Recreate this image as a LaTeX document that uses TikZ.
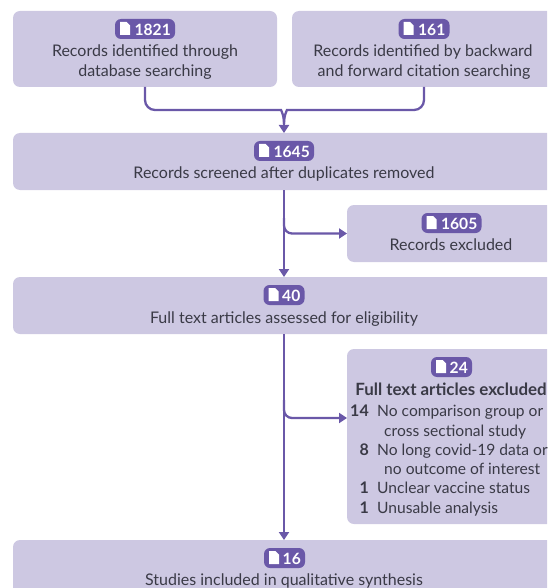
\documentclass[tikz,border=0pt]{standalone}
\usepackage{fontspec}
\setmainfont{Lato}
\usetikzlibrary{arrows.meta}
\definecolor{boxfill}{HTML}{CDC8E2}
\definecolor{purp}{HTML}{6A58A8}
\definecolor{ink}{HTML}{3A3A46}
\tikzset{
  box/.style={fill=boxfill,rounded corners=7pt,inner sep=0pt,outer sep=0pt,minimum width=#1},
  lbl/.style={text=ink,font=\fontsize{16}{18}\selectfont,anchor=base,inner sep=0pt,yshift=-0.7pt},
  lft/.style={lbl,anchor=base west,font=\fontsize{15.6}{18}\selectfont},
  num/.style={lbl,anchor=base east,font=\fontsize{16}{18}\selectfont\bfseries},
  head/.style={lbl,font=\fontsize{16.9}{18}\selectfont\bfseries},
  pill/.style={fill=purp,rounded corners=6pt,minimum height=20pt,inner sep=0pt,outer sep=0pt},
  pnum/.style={text=white,font=\fontsize{15.6}{18}\selectfont\bfseries,anchor=base east,inner sep=0pt,yshift=-0.7pt},
  conn/.style={draw=purp,line width=2.3pt,rounded corners=10pt},
  arrow/.style={conn,-{Triangle[length=8pt,width=10pt]}}
}
% \badge{name}{centre x}{baseline y}{width}{number}
\newcommand{\badge}[5]{%
  \node[pill,minimum width=#4pt] (#1) at (#2,#3-6) {};
  \node[pnum] (#1n) at (#2+#4/2-4,#3) {#5};
  \fill[white] (#2-#4/2+5,#3-13) -- ++(6.5,0) -- ++(3.5,3.5) -- ++(0,9.5) -- ++(-10,0) -- cycle;
}
\begin{document}
\begin{tikzpicture}[x=1pt,y=-1pt]
\useasboundingbox (0,0) rectangle (547,588);
\clip (0,0) rectangle (547,588);
% boxes
\node[box=264pt,minimum height=76pt] (A) at (145,49) {};
\node[box=264pt,minimum height=76pt] (B) at (424,49) {};
\node[box=542pt,minimum height=57pt] (C) at (284,161.5) {};
\node[box=208pt,minimum height=57pt] (D) at (451,233.5) {};
\node[box=542pt,minimum height=57pt] (E) at (284,305.5) {};
\node[box=208pt,minimum height=175pt] (F) at (451,436.5) {};
\node[box=542pt,minimum height=57pt] (G) at (284,568.5) {};
% connectors
\coordinate (jl) at (271,110);
\coordinate (jr) at (297,110);
\coordinate (jb) at (284,124);
\coordinate (j1) at (284,218);
\coordinate (j2) at (284,400);
\coordinate (fin) at (347,418);
\draw[conn] (A.south) |- (jl) .. controls (281,110) and (284,115) .. (jb);
\draw[conn] (B.south) |- (jr) .. controls (287,110) and (284,115) .. (jb);
\draw[arrow] (jb) -- (C.north);
\draw[arrow] (C.south) -- (E.north);
\draw[arrow] (E.south) -- (G.north);
\draw[arrow,rounded corners=8pt] (j1) |- (D.west);
\draw[arrow,rounded corners=8pt] (j2) |- (fin);
% texts
\badge{pa}{145}{35}{60}{1821}
\node[lbl] (a1) at (145,56) {Records identified through};
\node[lbl] (a2) at (145,76) {database searching};
\badge{pb}{424}{35}{51}{161}
\node[lbl] (b1) at (423,56) {Records identified by backward};
\node[lbl] (b2) at (424,76) {and forward citation searching};
\badge{pc}{284}{157}{60}{1645}
\node[lbl] (c1) at (284,178) {Records screened after duplicates removed};
\badge{pd}{451.5}{229}{60}{1605}
\node[lbl] (d1) at (451,250) {Records excluded};
\badge{pe}{284}{301}{41}{40}
\node[lbl] (e1) at (284,323) {Full text articles assessed for eligibility};
\badge{pf}{451.5}{373}{41}{24}
\node[head] (f0) at (451,395) {Full text articles excluded};
\node[num] (n1) at (369,416) {14};
\node[lft] (t1) at (377,416) {No comparison group or};
\node[lft] (t1b) at (384,436) {cross sectional study};
\node[num] (n2) at (369,455) {8};
\node[lft] (t2) at (377,455) {No long covid-19 data or};
\node[lft] (t2b) at (384,474) {no outcome of interest};
\node[num] (n3) at (369,493) {1};
\node[lft] (t3) at (377,493) {Unclear vaccine status};
\node[num] (n4) at (369,513) {1};
\node[lft] (t4) at (377,513) {Unusable analysis};
\badge{pg}{284.5}{564}{41}{16}
\node[lbl] (g1) at (284,585) {Studies included in qualitative synthesis};
\end{tikzpicture}
\end{document}
